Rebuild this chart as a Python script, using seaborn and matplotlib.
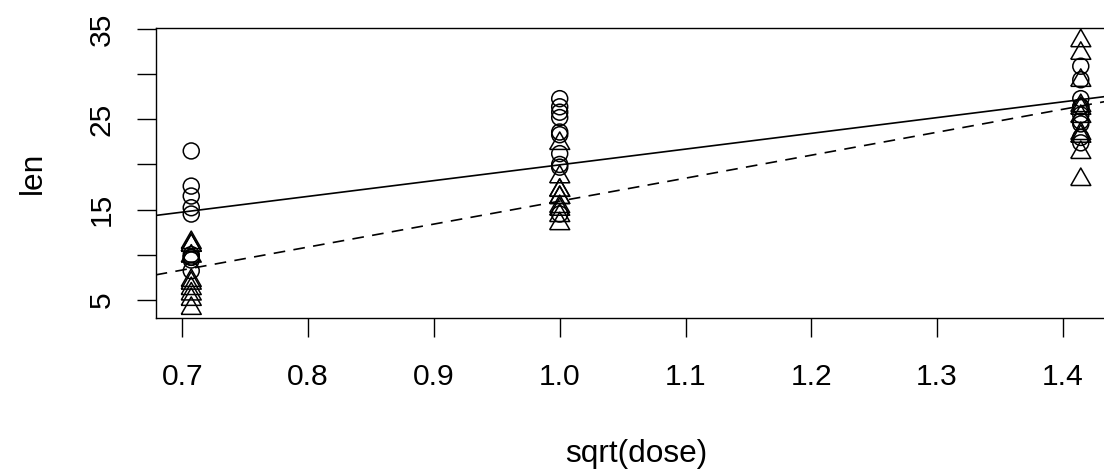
import numpy as np
import pandas as pd
import matplotlib
matplotlib.use("Agg")
import matplotlib.pyplot as plt
import seaborn as sns

# ToothGrowth data
dose_levels = [0.5, 1.0, 2.0]
vc_len = [4.2, 11.5, 7.3, 5.8, 6.4, 10.0, 11.2, 11.2, 5.2, 7.0,
          16.5, 16.5, 15.2, 17.3, 22.5, 17.3, 13.6, 14.5, 18.8, 15.5,
          23.6, 18.5, 33.9, 25.5, 26.4, 32.5, 26.7, 21.5, 23.3, 29.5]
oj_len = [15.2, 21.5, 17.6, 9.7, 14.5, 10.0, 8.2, 9.4, 16.5, 9.7,
          19.7, 23.3, 23.6, 26.4, 20.0, 25.2, 25.8, 21.2, 14.5, 27.3,
          25.5, 26.4, 22.4, 24.5, 24.8, 30.9, 26.4, 27.3, 29.4, 23.0]
supp_labels = ["VC", "OJ"]
x_ticks = [0.7, 0.8, 0.9, 1.0, 1.1, 1.2, 1.3, 1.4]
y_ticks = [5, 10, 15, 20, 25, 30, 35]
y_ticklabels = ["5", "", "15", "", "25", "", "35"]

dose = np.repeat(dose_levels, 10)
df = pd.DataFrame({
    "sqrtdose": np.concatenate([np.sqrt(dose), np.sqrt(dose)]),
    "len": np.concatenate([vc_len, oj_len]),
    "supp": ["VC"] * 30 + ["OJ"] * 30,
})

sns.set_theme(style="white")
plt.rcParams["font.family"] = ["Liberation Sans", "DejaVu Sans"]

fig = plt.figure(figsize=(11.04, 4.70), dpi=100)
ax = fig.add_axes([0.1410, 0.3243, 0.8702, 0.6151])

xmin, xmax = df["sqrtdose"].min(), df["sqrtdose"].max()
ymin, ymax = df["len"].min(), df["len"].max()
xr, yr = xmax - xmin, ymax - ymin
ax.set_xlim(xmin - 0.04 * xr, xmax + 0.04 * xr)
ax.set_ylim(ymin - 0.04 * yr, ymax + 0.04 * yr)

tri = [(-1, -0.75), (1, -0.75), (0, 1.0), (-1, -0.75)]
oj = df[df["supp"] == "OJ"]
vc = df[df["supp"] == "VC"]
sns.scatterplot(data=oj, x="sqrtdose", y="len", ax=ax, marker="o", s=132,
                facecolors="none", edgecolor="black", linewidth=1.1, legend=False)
sns.scatterplot(data=vc, x="sqrtdose", y="len", ax=ax, marker=tri, s=207,
                facecolors="none", edgecolor="black", linewidth=1.1, legend=False)

sns.regplot(data=oj, x="sqrtdose", y="len", ax=ax, scatter=False, ci=None,
            truncate=False, line_kws={"color": "black", "lw": 1.2})
sns.regplot(data=vc, x="sqrtdose", y="len", ax=ax, scatter=False, ci=None,
            truncate=False, line_kws={"color": "black", "lw": 1.2, "ls": (0, (7, 5))})

ax.set_xlim(xmin - 0.04 * xr, xmax + 0.04 * xr)
ax.set_ylim(ymin - 0.04 * yr, ymax + 0.04 * yr)

ax.set_xticks(x_ticks)
ax.set_xticklabels([f"{t:.1f}" for t in x_ticks])
ax.set_yticks(y_ticks)
ax.set_yticklabels(y_ticklabels, rotation=90, va="center")
ax.tick_params(axis="both", direction="out", length=14, width=1.0, color="black",
               labelsize=21.6, labelcolor="black")
ax.tick_params(axis="x", pad=19, bottom=True)
ax.tick_params(axis="y", pad=15, left=True)

for sp in ax.spines.values():
    sp.set_color("black")
    sp.set_linewidth(1.0)
    sp.set_visible(True)

ax.set_xlabel("sqrt(dose)", fontsize=22.8, color="black")
ax.set_ylabel("len", fontsize=22.8, color="black")
ax.xaxis.label.set_va("center")
ax.yaxis.label.set_va("center")
ax.xaxis.set_label_coords(0.5, (317.6 - 454) / 289.1)
ax.yaxis.set_label_coords((33 - 155.7) / 960.7, 0.5)

fig.savefig("out.png", dpi=100)
